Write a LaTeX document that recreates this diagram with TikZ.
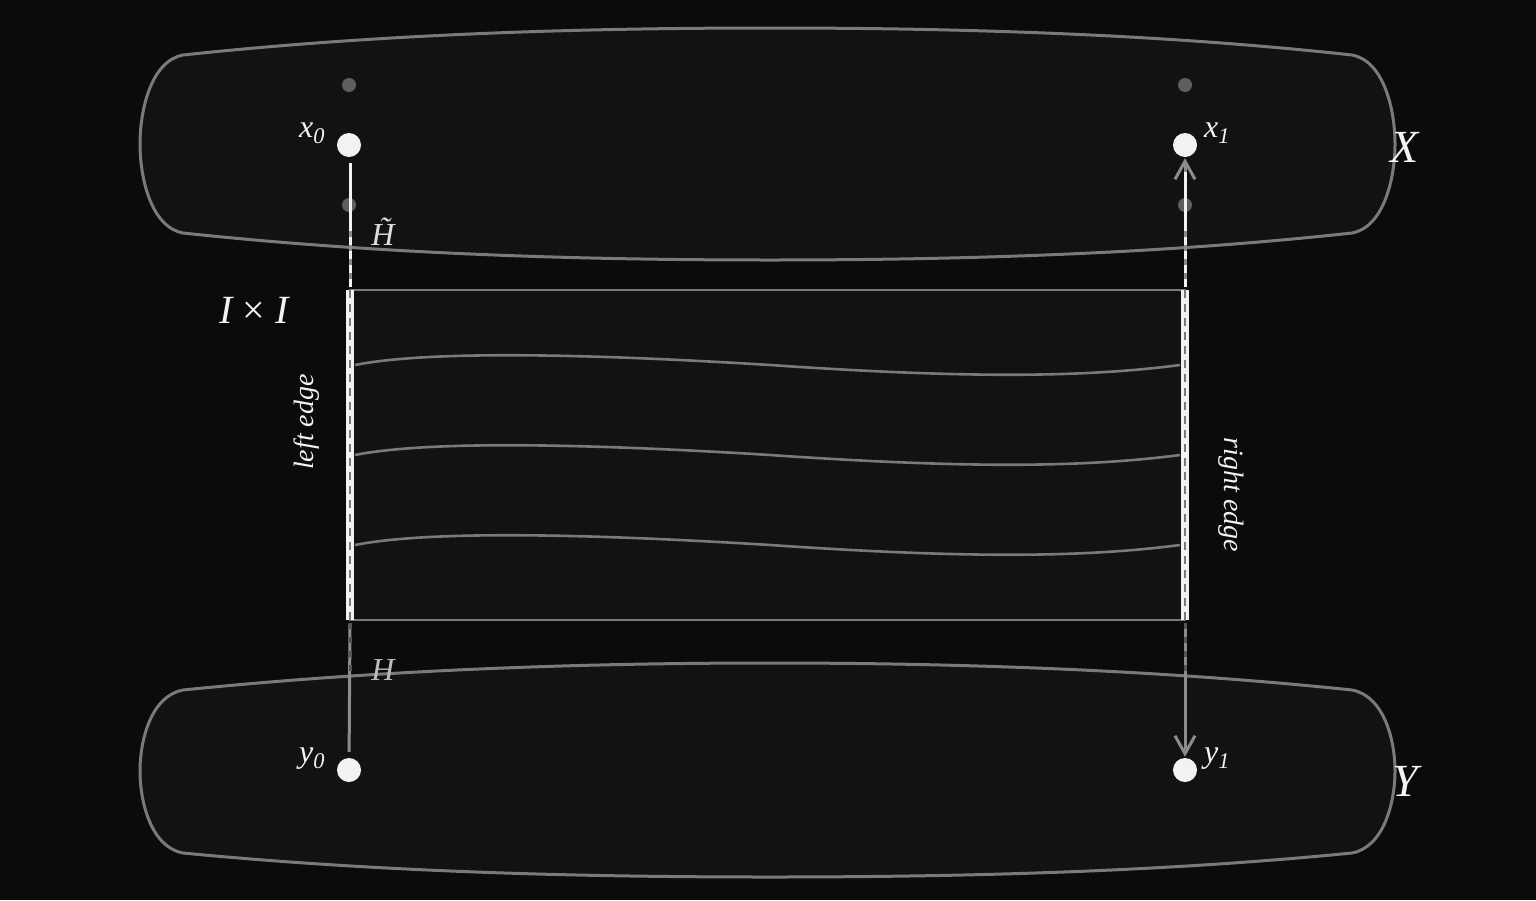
\documentclass[tikz,border=0pt]{standalone}
\usepackage{fontspec}
\setmainfont{Liberation Serif}
\usetikzlibrary{arrows.meta}
\definecolor{bg}{HTML}{0A0C0C}
\definecolor{blobfill}{HTML}{111313}
\definecolor{edgegray}{HTML}{7A7A7A}
\definecolor{conngray}{HTML}{8C8C8C}
\definecolor{dashdark}{HTML}{555555}
\definecolor{dotwhite}{HTML}{F2F2F0}
\definecolor{ghost}{HTML}{5E5E5E}
\definecolor{labelwhite}{HTML}{F2F2F0}
\definecolor{hgray}{HTML}{BBBBBB}
\definecolor{htgray}{HTML}{DDDDDD}
\begin{document}
\begin{tikzpicture}[x=1pt,y=-1pt,
  blob/.style={fill=blobfill, draw=edgegray, line width=3pt},
  bigdot/.style={circle, fill=dotwhite, minimum size=24pt, inner sep=0pt},
  ghostdot/.style={circle, fill=ghost, minimum size=14pt, inner sep=0pt},
  fiber/.style={draw=edgegray, line width=2.6pt},
  band/.style={draw=dotwhite, line width=8pt},
  banddash/.style={draw=edgegray, line width=2.5pt, dash pattern=on 8pt off 6pt},
  conn/.style={draw=conngray, line width=3pt},
  whiteseg/.style={draw=dotwhite, line width=3pt},
  whitedash/.style={draw=dotwhite, line width=3pt, dash pattern=on 8pt off 6pt},
  graydash/.style={draw=dashdark, line width=3pt, dash pattern=on 6pt off 8pt},
  tip/.style={-{Straight Barb[length=18pt,width=20pt,line width=3pt]}},
  lbl/.style={text=labelwhite, font=\fontsize{32}{32}\selectfont\itshape, inner sep=0pt},
  edgelbl/.style={text=labelwhite, font=\fontsize{28}{28}\selectfont\itshape, inner sep=0pt},
  spacelbl/.style={text=labelwhite, font=\fontsize{46}{46}\selectfont\itshape, inner sep=0pt}
]
\fill[bg] (0,0) rectangle (1536,900);
\useasboundingbox (0,0) rectangle (1536,900);

% space X
\draw[blob] (183,55) .. controls (380,34) and (580,28) .. (770,28)
  .. controls (960,28) and (1160,34) .. (1352,55)
  .. controls (1384,61) and (1395,110) .. (1395,144)
  .. controls (1395,178) and (1384,227) .. (1352,233)
  .. controls (1160,254) and (960,260) .. (770,260)
  .. controls (580,260) and (380,254) .. (183,233)
  .. controls (151,227) and (140,178) .. (140,144)
  .. controls (140,110) and (151,61) .. (183,55) -- cycle;
% space Y
\draw[blob] (183,690) .. controls (380,670) and (580,663) .. (770,663)
  .. controls (960,663) and (1160,670) .. (1352,690)
  .. controls (1384,696) and (1395,740) .. (1395,771)
  .. controls (1395,802) and (1384,847) .. (1352,853)
  .. controls (1160,872) and (960,877) .. (770,877)
  .. controls (580,877) and (380,872) .. (183,853)
  .. controls (151,847) and (140,802) .. (140,771)
  .. controls (140,740) and (151,696) .. (183,690) -- cycle;

% square I x I
\coordinate (tl) at (350,290);
\coordinate (tr) at (1185,290);
\coordinate (bl) at (350,620);
\coordinate (br) at (1185,620);
\draw[fill=blobfill, draw=edgegray, line width=2.6pt] (tl) rectangle (br);

% homotopy fibres
\foreach \yy in {365,455,545}{
  \draw[fiber] (355,\yy) .. controls (420,\yy-13) and (560,\yy-13) .. (770,\yy)
    .. controls (960,\yy+13) and (1080,\yy+13) .. (1180,\yy);
}
% edges
\draw[band] (tl) -- (bl);
\draw[banddash] (tl) -- (bl);
\draw[band] (tr) -- (br);
\draw[banddash] (tr) -- (br);

% points
\node[ghostdot] (gx0a) at (349,85) {};
\node[ghostdot] (gx0b) at (349,205) {};
\node[ghostdot] (gx1a) at (1185,85) {};
\node[ghostdot] (gx1b) at (1185,205) {};
\node[bigdot] (x0) at (349,145) {};
\node[bigdot] (x1) at (1185,145) {};
\node[bigdot] (y0) at (349,770) {};
\node[bigdot] (y1) at (1185,770) {};

% connector coordinates
\coordinate (lt0) at (350,287);
\coordinate (lt1) at (350,230);
\coordinate (lt2) at (350,163);
\coordinate (rt0) at (1185,287);
\coordinate (rt1) at (1185,230);
\coordinate (rt2) at (1185,172);
\coordinate (lb0) at (350,623);
\coordinate (lb1) at (350,673);
\coordinate (rb0) at (1185,623);
\coordinate (rb1) at (1185,673);

% top left: H tilde
\draw[conn] (lt0) -- (lt2);
\draw[whiteseg] (lt1) -- (lt2);
\draw[whitedash] (lt0) -- (lt1);
% top right: arrow to x1
\draw[conn, tip, shorten >=1pt] (rt0) -- (x1);
\draw[whiteseg] (rt1) -- (rt2);
\draw[whitedash] (rt0) -- (rt1);
% bottom left: H
\draw[conn, shorten >=6pt] (lb0) -- (y0);
\draw[graydash] (lb0) -- (lb1);
% bottom right: arrow to y1
\draw[conn, tip, shorten >=1pt] (rb0) -- (y1);
\draw[graydash] (rb0) -- (rb1);

% labels
\node[lbl, anchor=base] (lx0) at (312,137) {x\textsubscript{0}};
\node[lbl, anchor=base] (lx1) at (1217,137) {x\textsubscript{1}};
\node[lbl, anchor=base] (ly0) at (312,762) {y\textsubscript{0}};
\node[lbl, anchor=base] (ly1) at (1217,762) {y\textsubscript{1}};
\node[lbl, text=htgray, anchor=base] (lHt) at (383,245) {\~{H}};
\node[lbl, text=hgray, anchor=base] (lH) at (383,680) {H};
\node[spacelbl, anchor=base] (lX) at (1405,162) {X};
\node[spacelbl, anchor=base] (lY) at (1405,796) {Y};
\node[text=labelwhite, font=\fontsize{40}{40}\selectfont, inner sep=0pt, anchor=base] (lII) at (254,323) {\itshape I \upshape× \itshape I};
\node[edgelbl, rotate=90] (lle) at (307,422) {left edge};
\node[edgelbl, rotate=-90] (lre) at (1231,495) {right edge};
\end{tikzpicture}
\end{document}
